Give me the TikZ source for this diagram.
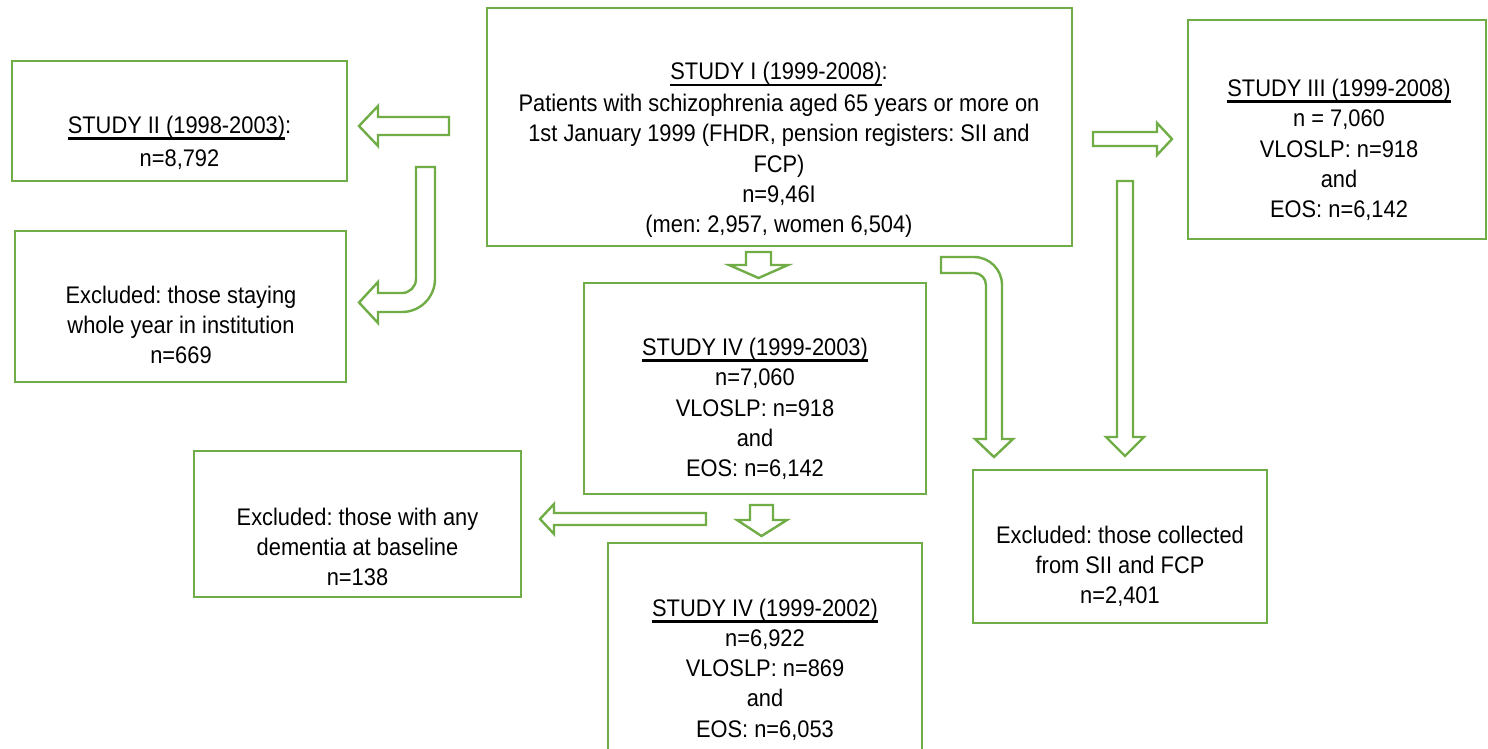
\documentclass[tikz,border=0pt]{standalone}
\usepackage{fontspec}
\setmainfont[FakeStretch=0.91]{Liberation Sans}
\definecolor{grn}{RGB}{112,173,71}
\newcommand\ulx[1]{\leavevmode\setbox0=\hbox{#1}\rlap{\rule[-6.5pt]{\wd0}{2.6pt}}\box0}
\frenchspacing
\begin{document}
\begin{tikzpicture}[x=1pt,y=-1pt,
  box/.style={draw=grn, line width=2.8pt, fill=white, inner sep=0pt},
  txt/.style={align=center, inner sep=0pt, font=\fontsize{24}{30.3}\selectfont\frenchspacing},
  barrow/.style={draw=grn, line width=2.4pt, fill=white, line join=miter}]
\clip (0,0) rectangle (1488,748);
\fill[white] (0,0) rectangle (1488,748);

% boxes
\node[box, minimum width=585pt, minimum height=238pt] (b1) at (779.5,127) {};
\node[box, minimum width=335pt, minimum height=120pt] (b2) at (179.5,121) {};
\node[box, minimum width=298pt, minimum height=219pt] (b3) at (1337,129.5) {};
\node[box, minimum width=331pt, minimum height=151pt] (bi) at (180.5,306.5) {};
\node[box, minimum width=342pt, minimum height=211pt] (b4) at (755,388.5) {};
\node[box, minimum width=327pt, minimum height=146pt] (bd) at (357.5,524) {};
\node[box, minimum width=314pt, minimum height=247pt] (b5) at (765,666.5) {};
\node[box, minimum width=294pt, minimum height=153pt] (bs) at (1120,546.5) {};

% texts
\node[txt] (t1) at (779,150) {\ulx{STUDY I (1999-2008)}:\\[1.5pt]
  Patients with schizophrenia aged 65 years or more on\\
  1st January 1999 (FHDR, pension registers: SII and\\
  FCP)\\ n=9,46I\\ (men: 2,957, women 6,504)};
\node[txt] (t2) at (179.5,143) {\ulx{STUDY II (1998-2003)}:\\[3pt] n=8,792};
\node[txt] (t3) at (1339,150) {\ulx{STUDY III (1999-2008)}\\ n = 7,060\\ VLOSLP: n=918\\ and\\ EOS: n=6,142};
\node[txt] (ti) at (181,325) {Excluded: those staying\\ whole year in institution\\ n=669};
\node[txt] (t4) at (755,409) {\ulx{STUDY IV (1999-2003)}\\ n=7,060\\ VLOSLP: n=918\\ and\\ EOS: n=6,142};
\node[txt] (td) at (357.5,547) {Excluded: those with any\\ dementia at baseline\\ n=138};
\node[txt] (t5) at (765,669.5) {\ulx{STUDY IV (1999-2002)}\\ n=6,922\\ VLOSLP: n=869\\ and\\ EOS: n=6,053};
\node[txt] (ts) at (1120,566.5) {Excluded: those collected\\ from SII and FCP\\ n=2,401};

% block arrows
% I -> II
\draw[barrow] (449,117) -- (378,117) -- (378,106) -- (359,126) -- (378,146) -- (378,135) -- (449,135) -- cycle;
% I -> excluded institution (bent)
\draw[barrow] (416,167) -- (435,167) -- (435,279) .. controls (435,297.2) and (420.2,312) .. (402,312)
  -- (378,312) -- (378,323) -- (359,302.5) -- (378,282) -- (378,293) -- (402,293)
  .. controls (409.7,293) and (416,286.7) .. (416,279) -- cycle;
% I -> III
\draw[barrow] (1093,132) -- (1157,132) -- (1157,123) -- (1172,139) -- (1157,155) -- (1157,146) -- (1093,146) -- cycle;
% III -> excluded SII
\draw[barrow] (1117,181) -- (1133,181) -- (1133,437) -- (1144,437) -- (1125,456) -- (1106,437) -- (1117,437) -- cycle;
% I -> excluded SII (bent)
\draw[barrow] (941,257) -- (974,257) .. controls (989.5,257) and (1002,269.5) .. (1002,285)
  -- (1002,439) -- (1013,439) -- (994,457) -- (975,439) -- (986,439) -- (986,285)
  .. controls (986,278.4) and (980.6,273) .. (974,273) -- (941,273) -- cycle;
% I -> IV
\draw[barrow] (746,252) -- (771,252) -- (771,265) -- (788,265) -- (758.5,278) -- (729,265) -- (746,265) -- cycle;
% IV -> IV (2002)
\draw[barrow] (750,505) -- (773,505) -- (773,520) -- (787,520) -- (761.5,536) -- (737,520) -- (750,520) -- cycle;
% IV -> excluded dementia
\draw[barrow] (706,513) -- (554,513) -- (554,504) -- (540,519) -- (554,534) -- (554,525) -- (706,525) -- cycle;
\end{tikzpicture}
\end{document}
